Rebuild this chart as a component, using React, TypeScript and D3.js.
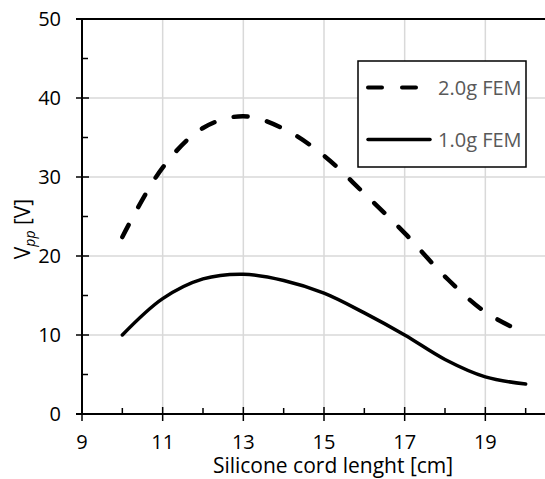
import { useEffect, useRef } from "react";
import * as d3 from "d3";

// cord length [cm] and simulated peak-to-peak voltage [V]
const lengths = [10, 11, 12, 13, 14, 15, 16, 17, 18, 19, 20];
const fem2g = [22.4, 31.2, 36.2, 37.7, 36.1, 32.7, 27.9, 22.9, 17.4, 12.9, 10.2];
const fem1g = [10.0, 14.6, 17.1, 17.7, 16.9, 15.3, 12.8, 10.0, 6.9, 4.7, 3.8];
const seriesNames = ["2.0g FEM", "1.0g FEM"];

const xTicks = [9, 11, 13, 15, 17, 19, 21];
const xMinor = [10, 12, 14, 16, 18, 20];
const yTicks = [0, 10, 20, 30, 40, 50];
const yMinor = [5, 15, 25, 35, 45];

const W = 545;
const H = 479;
const FONT = "'Open Sans', sans-serif";

export default function App() {
  const svgRef = useRef<SVGSVGElement>(null);

  useEffect(() => {
    document.body.style.margin = "0";
    const svg = d3.select(svgRef.current);
    svg.selectAll("*").remove();

    const x = d3.scaleLinear().domain([9, 21]).range([82, 566]);
    const y = d3.scaleLinear().domain([0, 50]).range([414, 19]);

    // grid
    svg.append("g")
      .selectAll("line")
      .data(xTicks.slice(1))
      .enter()
      .append("line")
      .attr("x1", d => x(d)).attr("x2", d => x(d))
      .attr("y1", y(0)).attr("y2", y(50))
      .attr("stroke", "#d9d9d9").attr("stroke-width", 1.5);
    svg.append("g")
      .selectAll("line")
      .data(yTicks.slice(1, -1))
      .enter()
      .append("line")
      .attr("x1", x(9)).attr("x2", W)
      .attr("y1", d => y(d)).attr("y2", d => y(d))
      .attr("stroke", "#d9d9d9").attr("stroke-width", 1.5);

    // frame top + axes
    svg.append("line")
      .attr("x1", x(9) - 6).attr("x2", W)
      .attr("y1", y(50)).attr("y2", y(50))
      .attr("stroke", "#000").attr("stroke-width", 2);
    svg.append("line")
      .attr("x1", x(9)).attr("x2", x(9))
      .attr("y1", y(50)).attr("y2", y(0))
      .attr("stroke", "#000").attr("stroke-width", 2);
    svg.append("line")
      .attr("x1", x(9) - 6).attr("x2", W)
      .attr("y1", y(0)).attr("y2", y(0))
      .attr("stroke", "#000").attr("stroke-width", 2);

    const ticks = svg.append("g").attr("stroke", "#000").attr("stroke-width", 1.5);
    xTicks.forEach(t => {
      ticks.append("line").attr("x1", x(t)).attr("x2", x(t)).attr("y1", y(0) - 7).attr("y2", y(0) + 7);
    });
    xMinor.forEach(t => {
      ticks.append("line").attr("x1", x(t)).attr("x2", x(t)).attr("y1", y(0) - 6).attr("y2", y(0));
    });
    yTicks.forEach(t => {
      ticks.append("line").attr("x1", x(9) - 6).attr("x2", x(9) + 7).attr("y1", y(t)).attr("y2", y(t));
    });
    yMinor.forEach(t => {
      ticks.append("line").attr("x1", x(9)).attr("x2", x(9) + 6).attr("y1", y(t)).attr("y2", y(t));
    });

    // tick labels
    svg.append("g")
      .selectAll("text")
      .data(xTicks.filter(t => x(t) < W))
      .enter()
      .append("text")
      .attr("x", d => x(d)).attr("y", 449)
      .attr("text-anchor", "middle")
      .attr("font-family", FONT).attr("font-size", 20).attr("fill", "#000")
      .text(d => d);
    svg.append("g")
      .selectAll("text")
      .data(yTicks)
      .enter()
      .append("text")
      .attr("x", 61).attr("y", d => y(d) + 7)
      .attr("text-anchor", "end")
      .attr("font-family", FONT).attr("font-size", 20).attr("fill", "#000")
      .text(d => d);

    // axis titles
    svg.append("text")
      .attr("x", 333).attr("y", 473)
      .attr("text-anchor", "middle")
      .attr("font-family", FONT).attr("font-size", 21).attr("fill", "#000")
      .text("Silicone cord lenght [cm]");
    const yt = svg.append("text")
      .attr("transform", "translate(30,229) rotate(-90)")
      .attr("text-anchor", "middle")
      .attr("font-family", FONT).attr("font-size", 21).attr("fill", "#000");
    yt.append("tspan").text("V");
    yt.append("tspan").attr("font-size", 14).attr("font-style", "italic").attr("dy", 5).text("pp");
    yt.append("tspan").attr("dy", -5).text(" [V]");

    // curves
    const line = d3.line<number>()
      .x((_, i) => x(lengths[i]))
      .y(d => y(d))
      .curve(d3.curveCatmullRom);

    svg.append("path")
      .attr("d", line(fem2g))
      .attr("fill", "none").attr("stroke", "#000")
      .attr("stroke-width", 4.5).attr("stroke-dasharray", "14 20")
      .attr("stroke-linecap", "round");
    svg.append("path")
      .attr("d", line(fem1g))
      .attr("fill", "none").attr("stroke", "#000")
      .attr("stroke-width", 3.5).attr("stroke-linecap", "round");

    // legend
    const lg = svg.append("g");
    lg.append("rect")
      .attr("x", 358).attr("y", 61).attr("width", 168).attr("height", 106)
      .attr("fill", "#fff").attr("stroke", "#000").attr("stroke-width", 1.5);
    const rows = [
      { name: seriesNames[0], dash: "14 20", sw: 4, yy: 87.5 },
      { name: seriesNames[1], dash: null, sw: 3.5, yy: 139.5 },
    ];
    rows.forEach(r => {
      lg.append("line")
        .attr("x1", 368).attr("x2", 430)
        .attr("y1", r.yy).attr("y2", r.yy)
        .attr("stroke", "#000").attr("stroke-width", r.sw)
        .attr("stroke-linecap", "round")
        .attr("stroke-dasharray", r.dash);
      lg.append("text")
        .attr("x", 438).attr("y", r.yy + 7)
        .attr("font-family", FONT).attr("font-size", 20).attr("fill", "#595959")
        .text(r.name);
    });
  }, []);

  return <svg ref={svgRef} width={W} height={H} style={{ display: "block" }} />;
}
